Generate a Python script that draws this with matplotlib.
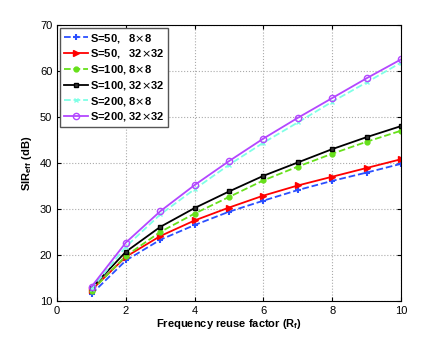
import numpy as np
import matplotlib
matplotlib.use('Agg')
import matplotlib.pyplot as plt

plt.rcParams['font.family'] = ['Liberation Sans', 'DejaVu Sans']

# Frequency reuse factor
rf = [1, 2, 3, 4, 5, 6, 7, 8, 9, 10]

# SIR_eff (dB) for each configuration
s50_8 = [11.5, 18.8, 23.3, 26.5, 29.4, 31.8, 34.1, 36.1, 37.9, 39.8]
s50_32 = [12.4, 19.6, 24.1, 27.5, 30.3, 32.9, 35.1, 37.0, 38.9, 40.8]
s100_8 = [12.2, 19.8, 25.0, 29.0, 32.6, 36.2, 39.2, 42.0, 44.6, 47.0]
s100_32 = [12.8, 20.7, 26.1, 30.2, 33.8, 37.2, 40.1, 43.0, 45.6, 48.0]
s200_8 = [12.6, 21.8, 28.8, 34.3, 39.6, 44.4, 48.8, 53.3, 57.5, 61.8]
s200_32 = [13.1, 22.7, 29.5, 35.2, 40.4, 45.3, 49.8, 54.1, 58.4, 62.5]

labels = ['S=50,   8$\\times$8', 'S=50,   32$\\times$32', 'S=100, 8$\\times$8',
          'S=100, 32$\\times$32', 'S=200, 8$\\times$8', 'S=200, 32$\\times$32']

fig = plt.figure(figsize=(4.43, 3.37), dpi=100)
ax = fig.add_axes([0.129, 0.107, 0.776, 0.819])

ax.plot(rf, s50_8, '--', color='#2b4fff', marker='+', ms=4, mew=1.5, lw=1.3, label=labels[0])
ax.plot(rf, s50_32, '-', color='red', marker='>', ms=4.5, lw=1.3, label=labels[1])
ax.plot(rf, s100_8, '--', color='#66e01a', marker='o', ms=3.5, lw=1.3, label=labels[2])
ax.plot(rf, s100_32, '-', color='black', marker='s', ms=3.5, mfc='#333333', lw=1.3, label=labels[3])
ax.plot(rf, s200_8, '--', color='#7fffe6', marker='x', ms=3.5, lw=1.3, label=labels[4])
ax.plot(rf, s200_32, '-', color='#b347ff', marker='o', ms=4.5, mfc='none', lw=1.3, label=labels[5])

ax.set_xlim(0, 10)
ax.set_ylim(10, 70)
ax.set_xticks([0, 2, 4, 6, 8, 10])
ax.set_yticks([10, 20, 30, 40, 50, 60, 70])
ax.tick_params(labelsize=8, direction='in', length=3, top=True, right=True)
ax.grid(True, linestyle=':', color='#aaaaaa', lw=0.8)

ax.set_xlabel('Frequency reuse factor (R$_\\mathregular{f}$)', fontsize=8, fontweight='bold', labelpad=1)
ax.set_ylabel('SIR$_\\mathregular{eff}$ (dB)', fontsize=8, fontweight='bold', labelpad=4)

leg = ax.legend(loc='upper left', prop={'size': 8, 'weight': 'bold'}, fancybox=False,
                edgecolor='#555555', framealpha=1, handlelength=2.2, handletextpad=0.2,
                borderpad=0.3, labelspacing=0.25, borderaxespad=0.3)
leg.get_frame().set_linewidth(1.0)

fig.savefig('out.png', dpi=100)
